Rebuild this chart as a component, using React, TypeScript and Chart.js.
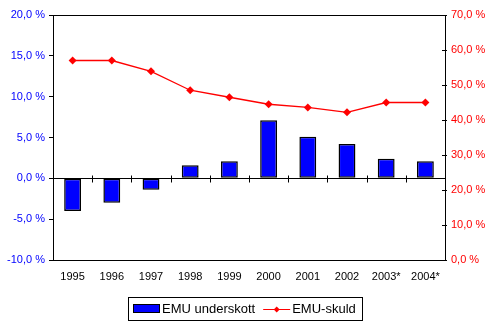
import React, { useEffect, useRef } from "react";
import { Chart, registerables } from "chart.js";

Chart.register(...registerables);

const years = ["1995", "1996", "1997", "1998", "1999", "2000", "2001", "2002", "2003*", "2004*"];
const deficit = [-4.0, -3.0, -1.4, 1.6, 2.1, 7.1, 5.1, 4.2, 2.4, 2.1];
const debt = [57.0, 57.0, 53.9, 48.5, 46.5, 44.5, 43.6, 42.2, 45.0, 45.0];
const leftRange = { min: -10, max: 20, step: 5 };
const rightRange = { min: 0, max: 70, step: 10 };
const seriesNames = ["EMU underskott", "EMU-skuld"];

const FONT = "'Liberation Sans', Arial, sans-serif";
const fmt = (v: number) => v.toFixed(1).replace(".", ",") + " %";

const framePlugin = {
  id: "frame",
  afterDatasetsDraw(chart: any) {
    const { ctx, chartArea, scales } = chart;
    ctx.save();
    ctx.strokeStyle = "#000";
    ctx.lineWidth = 1;
    ctx.beginPath();
    ctx.moveTo(chartArea.left, Math.round(chartArea.top) + 0.5);
    ctx.lineTo(chartArea.right, Math.round(chartArea.top) + 0.5);
    ctx.stroke();
    const y0 = Math.round(scales.y.getPixelForValue(0)) + 0.5;
    ctx.beginPath();
    ctx.moveTo(chartArea.left, y0);
    ctx.lineTo(chartArea.right, y0);
    const n = years.length;
    for (let i = 1; i < n; i++) {
      const x = Math.round((scales.x.getPixelForValue(i - 1) + scales.x.getPixelForValue(i)) / 2) + 0.5;
      ctx.moveTo(x, y0 - 3);
      ctx.lineTo(x, y0 + 4);
    }
    const ry = scales.y1;
    for (let v = rightRange.min + rightRange.step; v < rightRange.max; v += rightRange.step) {
      const yy = Math.round(ry.getPixelForValue(v)) + 0.5;
      ctx.moveTo(chartArea.right - 3, yy);
      ctx.lineTo(chartArea.right, yy);
    }
    ctx.stroke();
    ctx.restore();
  },
  afterDraw(chart: any) {
    const { ctx } = chart;
    const ds = chart.data.datasets;
    ctx.save();
    ctx.font = `13px ${FONT}`;
    const w1 = ctx.measureText(ds[0].label).width;
    const w2 = ctx.measureText(ds[1].label).width;
    const total = 5 + 27 + 2 + w1 + 8 + 27 + 2 + w2 + 6;
    const left = 128;
    const top = 297;
    const h = 23;
    ctx.fillStyle = "#fff";
    ctx.fillRect(left, top, total, h);
    ctx.strokeStyle = "#000";
    ctx.lineWidth = 1;
    ctx.strokeRect(left + 0.5, top + 0.5, Math.round(total), h);
    const cy = top + 12;
    let x = left + 5;
    ctx.fillStyle = ds[0].backgroundColor;
    ctx.fillRect(x, cy - 5, 27, 9);
    ctx.strokeRect(x + 0.5, cy - 5 + 0.5, 26, 8);
    x += 29;
    ctx.fillStyle = "#000";
    ctx.textBaseline = "middle";
    ctx.textAlign = "left";
    ctx.fillText(ds[0].label, x, cy);
    x += w1 + 8;
    ctx.strokeStyle = ds[1].borderColor;
    ctx.lineWidth = 1;
    ctx.beginPath();
    ctx.moveTo(x, cy + 0.5);
    ctx.lineTo(x + 27, cy + 0.5);
    ctx.stroke();
    ctx.fillStyle = ds[1].borderColor;
    ctx.beginPath();
    const mx = x + 13.5;
    const r = 3;
    ctx.moveTo(mx, cy + 0.5 - r);
    ctx.lineTo(mx + r, cy + 0.5);
    ctx.lineTo(mx, cy + 0.5 + r);
    ctx.lineTo(mx - r, cy + 0.5);
    ctx.closePath();
    ctx.fill();
    x += 29;
    ctx.fillStyle = "#000";
    ctx.fillText(ds[1].label, x, cy);
    ctx.restore();
  },
};

export default function App() {
  const ref = useRef<HTMLCanvasElement | null>(null);
  useEffect(() => {
    if (!ref.current) return;
    const chart = new Chart(ref.current, {
      type: "bar",
      data: {
        labels: years,
        datasets: [
          {
            type: "bar",
            label: seriesNames[0],
            data: deficit,
            backgroundColor: "#0000FF",
            borderColor: "#000000",
            borderWidth: 1.5,
            borderSkipped: false,
            barPercentage: 0.43,
            categoryPercentage: 1,
            yAxisID: "y",
            order: 1,
          } as any,
          {
            type: "line",
            label: seriesNames[1],
            data: debt,
            borderColor: "#FF0000",
            backgroundColor: "#FF0000",
            borderWidth: 1.3,
            pointStyle: "rectRot",
            pointRadius: 4,
            pointBackgroundColor: "#FF0000",
            pointBorderColor: "#FF0000",
            pointBorderWidth: 0,
            tension: 0,
            yAxisID: "y1",
            order: 0,
          } as any,
        ],
      },
      options: {
        responsive: false,
        animation: false,
        devicePixelRatio: 1,
        layout: { padding: { top: 15, left: 0, right: 0, bottom: 0 } },
        plugins: { legend: { display: false }, tooltip: { enabled: false } },
        scales: {
          x: {
            offset: true,
            grid: { display: false, drawTicks: false },
            border: { display: true, color: "#000", width: 1 },
            ticks: { color: "#000", font: { family: FONT, size: 11 }, padding: 10, maxRotation: 0 },
            afterFit: (s: any) => { s.height = 69; },
          },
          y: {
            position: "left",
            min: leftRange.min,
            max: leftRange.max,
            ticks: {
              stepSize: leftRange.step,
              color: "#0000FF",
              font: { family: FONT, size: 11 },
              padding: 4,
              callback: (v: any) => fmt(Number(v)),
            },
            grid: { display: true, drawOnChartArea: false, drawTicks: true, tickLength: 4, color: "#000" },
            border: { display: true, color: "#000", width: 1 },
            afterFit: (s: any) => { s.width = 53; },
          },
          y1: {
            position: "right",
            min: rightRange.min,
            max: rightRange.max,
            ticks: {
              stepSize: rightRange.step,
              color: "#FF0000",
              font: { family: FONT, size: 11 },
              padding: 4,
              callback: (v: any) => fmt(Number(v)),
            },
            grid: { display: true, drawOnChartArea: false, drawTicks: true, tickLength: 2, color: "#000" },
            border: { display: true, color: "#000", width: 1 },
            afterFit: (s: any) => { s.width = 48; },
          },
        },
      } as any,
      plugins: [framePlugin],
    });
    return () => chart.destroy();
  }, []);
  return (
    <div style={{ position: "fixed", left: 0, top: 0, width: 493, height: 329, background: "#fff" }}>
      <canvas ref={ref} width={493} height={329} style={{ display: "block" }} />
    </div>
  );
}
